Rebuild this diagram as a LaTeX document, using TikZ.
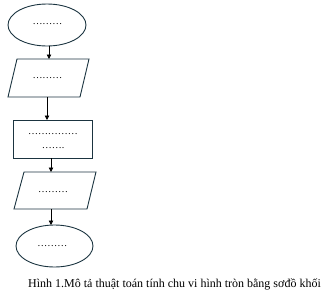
\documentclass[tikz,border=0pt]{standalone}
\usepackage{fontspec}
\setmainfont{Liberation Serif}
\usetikzlibrary{arrows.meta}
\definecolor{edge}{HTML}{1B3440}
\begin{document}
\begin{tikzpicture}[x=1pt,y=-1pt,
  shapeline/.style={draw=edge,line width=0.9pt},
  conn/.style={draw=black,line width=0.8pt,-{Triangle[length=4.5pt,width=4.5pt]}},
  dots/.style={font=\fontsize{10}{12}\selectfont,inner sep=0pt}]
\useasboundingbox (0,0) rectangle (333,306);
% start ellipse
\draw[shapeline] (47,25) ellipse [x radius=39, y radius=21];
\node[dots] (t1) at (47.5,24) {………};
\coordinate (e1b) at (49,46);
% input parallelogram
\draw[shapeline] (17,59) -- (89,59) -- (80,97) -- (8,97) -- cycle;
\node[dots] (t2) at (47.5,78) {………};
\coordinate (p1t) at (49,59);
\coordinate (p1b) at (47,97);
% process rectangle
\draw[shapeline] (13,120) rectangle (92,158);
\node[dots] (t3) at (53,134) {……………};
\node[dots] (t4) at (53,148) {…….};
\coordinate (r1t) at (47,120);
\coordinate (r1b) at (51,158);
% output parallelogram
\draw[shapeline] (24,172) -- (96,172) -- (87,209) -- (14,209) -- cycle;
\node[dots] (t5) at (53,192) {………};
\coordinate (p2t) at (51,172);
\coordinate (p2b) at (51,209);
% end ellipse
\draw[shapeline] (54.5,246) ellipse [x radius=38.5, y radius=21];
\node[dots] (t6) at (52.5,246) {………};
\coordinate (e2t) at (51,225);
% connectors
\draw[conn] (e1b) -- (p1t);
\draw[conn] (p1b) -- (r1t);
\draw[conn] (r1b) -- (p2t);
\draw[conn] (p2b) -- (e2t);
% caption
\node[font=\fontsize{12}{14}\selectfont,inner sep=0pt] (cap) at (174.5,284) {Hình 1.Mô tả thuật toán tính chu vi hình tròn bằng sơđồ khối};
\end{tikzpicture}
\end{document}
